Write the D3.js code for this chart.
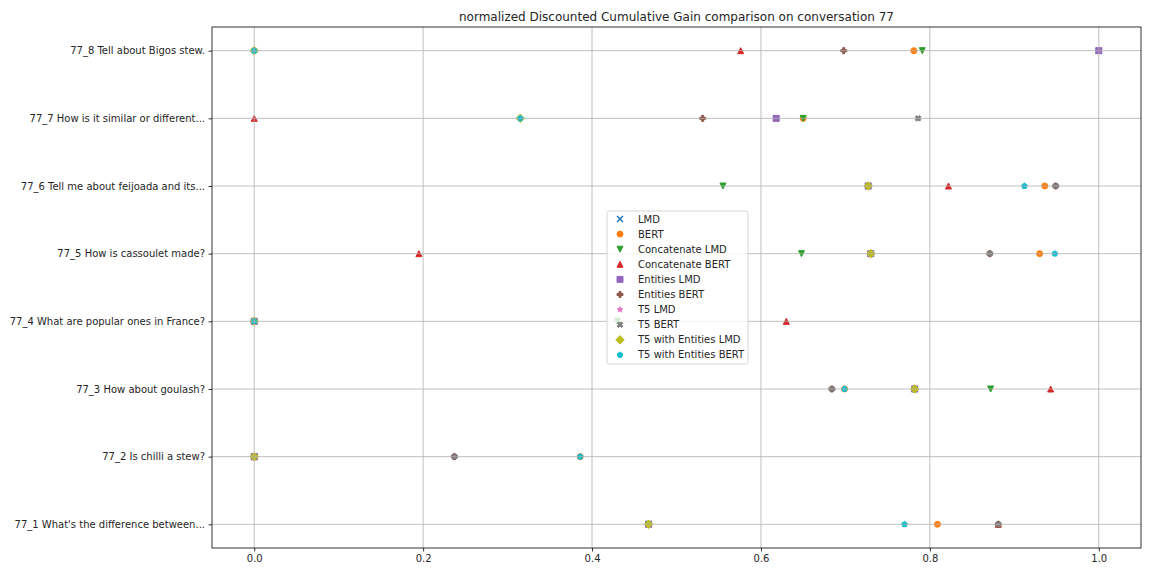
<!DOCTYPE html>
<html>
<head>
<meta charset="utf-8">
<script src="https://cdn.jsdelivr.net/npm/d3@7"></script>
<style>
  body { margin: 0; background: #fff; }
  text { font-family: "DejaVu Sans", sans-serif; fill: #262626; }
</style>
</head>
<body>
<svg id="chart" width="1152" height="576"></svg>
<script>
// rows, bottom to top
var categories = [
    "77_1 What's the difference between...",
    "77_2 Is chilli a stew?",
    "77_3 How about goulash?",
    "77_4 What are popular ones in France?",
    "77_5 How is cassoulet made?",
    "77_6 Tell me about feijoada and its...",
    "77_7 How is it similar or different...",
    "77_8 Tell about Bigos stew."
];
var seriesNames = ["LMD", "BERT", "Concatenate LMD", "Concatenate BERT", "Entities LMD",
    "Entities BERT", "T5 LMD", "T5 BERT", "T5 with Entities LMD", "T5 with Entities BERT"];

var lmd        = [0.467, 0,     0.782, 0,     0.730, 0.727, 0.618, 1.0];
var bert       = [0.809, 0.386, 0.699, 0,     0.930, 0.936, 0.650, 0.781];
var concatLmd  = [0.467, 0,     0.872, 0.430, 0.648, 0.555, 0.650, 0.791];
var concatBert = [0.881, 0,     0.943, 0.630, 0.195, 0.822, 0,     0.576];
var entLmd     = [0.467, 0,     0.782, 0,     0.730, 0.727, 0.618, 1.0];
var entBert    = [0.881, 0.237, 0.684, 0,     0.871, 0.949, 0.531, 0.698];
var t5Lmd      = [0.467, 0,     0.782, 0,     0.730, 0.727, 0.315, 0];
var t5Bert     = [0.881, 0.237, 0.684, 0,     0.871, 0.949, 0.786, 0];
var t5EntLmd   = [0.467, 0,     0.782, 0,     0.730, 0.727, 0.315, 0];
var t5EntBert  = [0.770, 0.386, 0.699, 0,     0.948, 0.912, 0.315, 0];

var xTicks = [0, 0.2, 0.4, 0.6, 0.8, 1.0];
var title = "normalized Discounted Cumulative Gain comparison on conversation 77";

var allSeries = [lmd, bert, concatLmd, concatBert, entLmd, entBert, t5Lmd, t5Bert, t5EntLmd, t5EntBert];
var colors = ["#1f77b4", "#ff7f0e", "#2ca02c", "#d62728", "#9467bd",
    "#8c564b", "#e377c2", "#7f7f7f", "#bcbd22", "#17becf"];
var markers = ["x", "o", "v", "^", "s", "P", "*", "X", "D", "p"];

var plotL = 212, plotR = 1141, plotT = 27, plotB = 548;
var svg = d3.select("#chart");

var x = d3.scaleLinear().domain([-0.05, 1.05]).range([plotL, plotR]);
var y = d3.scaleLinear().domain([-0.35, categories.length - 1 + 0.35]).range([plotB, plotT]);

// marker shapes in unit coords (size 1), scaled to 6px
function poly(pts, s){
    return "M" + pts.map(function(p){ return [p[0]*s, p[1]*s].join(","); }).join("L") + "Z";
}
function regular(n, r, inner){
    var pts = [];
    var k = inner ? 2*n : n;
    for (var i = 0; i < k; i++){
        var a = -Math.PI/2 + i * 2*Math.PI / k;
        var rr = (inner && i % 2) ? r*inner : r;
        pts.push([rr*Math.cos(a), rr*Math.sin(a)]);
    }
    return pts;
}
var plusPts = [[-1,-3],[1,-3],[1,-1],[3,-1],[3,1],[1,1],[1,3],[-1,3],[-1,1],[-3,1],[-3,-1],[-1,-1]]
    .map(function(p){ return [p[0]/6, p[1]/6]; });
function markerPath(m, s){
    switch(m){
        case "o": return d3.arc()({innerRadius: 0, outerRadius: s/2, startAngle: 0, endAngle: 2*Math.PI});
        case "^": return poly([[0,-0.5],[-0.5,0.5],[0.5,0.5]], s);
        case "v": return poly([[0,0.5],[-0.5,-0.5],[0.5,-0.5]], s);
        case "s": return poly([[-0.5,-0.5],[0.5,-0.5],[0.5,0.5],[-0.5,0.5]], s);
        case "D": return poly([[0,-0.707],[0.707,0],[0,0.707],[-0.707,0]], s);
        case "P": return poly(plusPts, s);
        case "X": return poly(plusPts.map(function(p){
            var c = Math.SQRT1_2; return [c*(p[0]-p[1]), c*(p[0]+p[1])]; }), s);
        case "*": return poly(regular(5, 0.5, 0.381966), s);
        case "p": return poly(regular(5, 0.5), s);
        case "x": return "M" + (-s/2) + "," + (-s/2) + "L" + (s/2) + "," + (s/2) +
                         "M" + (-s/2) + "," + (s/2) + "L" + (s/2) + "," + (-s/2);
    }
}
function drawMarker(g, i){
    var thin = markers[i] === "x";
    g.append("path")
        .attr("d", markerPath(markers[i], 6))
        .attr("fill", thin ? "none" : colors[i])
        .attr("stroke", colors[i])
        .attr("stroke-width", thin ? 1.5 : 1);
}

// points
allSeries.forEach(function(vals, i){
    var g = svg.append("g");
    g.selectAll("g").data(vals).enter().append("g")
        .attr("transform", function(d, j){ return "translate(" + x(d) + "," + y(j) + ")"; })
        .each(function(){ drawMarker(d3.select(this), i); });
});

// grid on top of points (matplotlib default order)
var grid = svg.append("g").attr("stroke", "#b0b0b0").attr("stroke-width", 0.8);
grid.selectAll(".gx").data(xTicks).enter().append("line")
    .attr("x1", function(d){ return x(d); }).attr("x2", function(d){ return x(d); })
    .attr("y1", plotT).attr("y2", plotB);
grid.selectAll(".gy").data(categories).enter().append("line")
    .attr("y1", function(d, j){ return y(j); }).attr("y2", function(d, j){ return y(j); })
    .attr("x1", plotL).attr("x2", plotR);

// axes
var xAxis = d3.axisBottom(x).tickValues(xTicks).tickFormat(d3.format(".1f")).tickSizeInner(3.5).tickSizeOuter(0).tickPadding(3.5);
var gx = svg.append("g").attr("transform", "translate(0," + plotB + ")").call(xAxis);
var yAxis = d3.axisLeft(y).tickValues(d3.range(categories.length))
    .tickFormat(function(d){ return categories[d]; }).tickSizeInner(3.5).tickSizeOuter(0).tickPadding(3.5);
var gy = svg.append("g").attr("transform", "translate(" + plotL + ",0)").call(yAxis);
[gx, gy].forEach(function(g){
    g.select(".domain").remove();
    g.selectAll("line").attr("stroke", "#000").attr("stroke-width", 0.8);
    g.selectAll("text").style("font-family", "DejaVu Sans").style("font-size", "10px").attr("fill", "#262626");
});

svg.append("rect")
    .attr("x", plotL).attr("y", plotT).attr("width", plotR - plotL).attr("height", plotB - plotT)
    .attr("fill", "none").attr("stroke", "#000").attr("stroke-width", 0.8);

svg.append("text")
    .attr("x", (plotL + plotR) / 2).attr("y", plotT - 6)
    .attr("text-anchor", "middle")
    .style("font-size", "12px")
    .text(title);

// legend
var lg = svg.append("g").attr("transform", "translate(607,211)");
lg.append("rect")
    .attr("width", 141).attr("height", 153).attr("rx", 2.5)
    .attr("fill", "#fff").attr("fill-opacity", 0.8)
    .attr("stroke", "#cccccc").attr("stroke-width", 0.8);
seriesNames.forEach(function(name, i){
    var row = lg.append("g").attr("transform", "translate(13," + (8 + i * 15.1) + ")");
    drawMarker(row, i);
    row.append("text").attr("x", 18).attr("dy", "0.35em")
        .style("font-size", "10px").text(name);
});
</script>
</body>
</html>
